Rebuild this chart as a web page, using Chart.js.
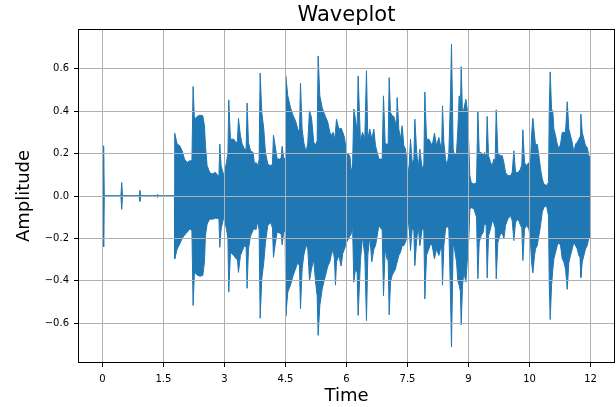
<!DOCTYPE html>
<html><head><meta charset="utf-8">
<script src="https://cdn.jsdelivr.net/npm/chart.js@4"></script>
<style>html,body{margin:0;padding:0;background:#fff}</style>
</head><body>
<canvas id="c" width="616" height="407"></canvas>
<script>
const chartTitle = 'Waveplot';
const xAxisTitle = 'Time';
const yAxisTitle = 'Amplitude';

const times = [0,0.015,0.03,0.045,0.455,0.475,0.495,0.9,0.92,0.94,1.34,1.35,1.36,1.77,
1.778,1.836,1.901,1.959,2.016,2.082,2.147,2.200,2.229,2.262,2.328,2.393,2.467,2.508,2.533,2.574,2.639,2.696,2.778,2.844,2.865,2.885,2.918,2.983,3.049,3.085,3.106,3.147,3.229,3.287,3.320,3.344,3.393,3.434,3.492,
3.533,3.557,3.590,3.639,3.705,3.737,3.778,3.819,3.852,3.877,3.918,3.967,4.008,4.065,4.131,4.180,4.205,4.246,4.295,4.360,4.395,4.418,4.459,4.491,4.508,4.557,4.623,4.688,4.746,4.803,4.844,4.869,4.909,4.950,5.008,5.049,5.090,5.139,5.196,5.237,
5.278,5.303,5.344,5.401,5.442,5.483,5.541,5.590,5.623,5.672,5.705,5.729,5.754,5.811,5.868,5.909,5.950,6.000,6.082,6.114,6.147,6.180,6.221,6.262,6.286,6.344,6.393,6.450,6.491,6.524,6.573,6.622,6.672,6.713,6.795,6.877,6.909,6.950,
7.000,7.024,7.049,7.081,7.122,7.163,7.204,7.230,7.245,7.286,7.327,7.368,7.409,7.450,7.491,7.532,7.573,7.614,7.655,7.680,7.721,7.762,7.803,7.860,7.901,7.926,7.967,8.024,8.065,8.106,8.163,8.212,8.270,8.311,8.340,8.360,8.393,8.434,8.475,8.516,8.557,8.581,
8.622,8.655,8.704,8.737,8.770,8.800,8.819,8.852,8.885,8.934,8.967,9.007,9.032,9.065,9.130,9.196,9.229,9.262,9.311,9.360,9.393,9.434,9.458,9.491,9.540,9.581,9.622,9.655,9.680,9.720,9.770,9.827,9.868,9.909,9.966,10.032,10.073,10.114,10.155,10.221,10.278,10.310,10.335,
10.376,10.425,10.483,10.524,10.548,10.581,10.622,10.647,10.688,10.729,10.770,10.811,10.852,10.917,10.966,10.983,11.007,11.040,11.073,11.098,11.139,11.180,11.221,11.262,11.303,11.344,11.384,11.426,11.466,11.507,11.548,11.589,11.630,11.671,11.712,11.740,11.761,11.794,11.835,11.876,11.917,11.958,11.985,11.99];

const upperEnv = [0.001,0.001,0.237,0.001,0.001,0.064,0.001,0.001,0.027,0.001,0.001,0.006,0.001,0.001,
0.296,0.245,0.237,0.213,0.174,0.158,0.166,0.166,0.516,0.362,0.375,0.381,0.378,0.331,0.237,0.143,0.111,0.104,0.111,0.096,0.10,0.245,0.143,0.096,0.158,0.20,0.453,0.268,0.268,0.25,0.26,0.366,0.284,0.245,0.221,
0.22,0.438,0.253,0.213,0.205,0.151,0.158,0.143,0.17,0.579,0.394,0.315,0.205,0.15,0.143,0.15,0.287,0.237,0.174,0.174,0.18,0.234,0.174,0.18,0.566,0.472,0.417,0.378,0.355,0.315,0.30,0.532,0.315,0.253,0.205,0.253,0.402,0.37,0.253,0.24,
0.26,0.66,0.472,0.417,0.394,0.375,0.347,0.30,0.285,0.30,0.268,0.30,0.362,0.315,0.32,0.30,0.276,0.205,0.19,0.127,0.127,0.41,0.362,0.30,0.566,0.253,0.30,0.27,0.59,0.268,0.315,0.268,0.315,0.237,0.174,0.174,0.472,0.253,
0.237,0.25,0.558,0.394,0.378,0.375,0.347,0.33,0.464,0.315,0.268,0.331,0.237,0.221,0.158,0.111,0.268,0.158,0.17,0.362,0.221,0.127,0.221,0.127,0.15,0.49,0.268,0.268,0.253,0.237,0.296,0.237,0.276,0.237,0.24,0.425,0.253,0.174,0.143,0.205,0.472,0.715,
0.221,0.19,0.205,0.315,0.472,0.40,0.61,0.378,0.41,0.456,0.41,0.237,0.096,0.064,0.056,0.064,0.40,0.205,0.205,0.19,0.205,0.18,0.375,0.19,0.158,0.143,0.174,0.17,0.406,0.205,0.19,0.19,0.158,0.111,0.096,0.096,0.111,0.213,0.111,0.111,0.127,0.15,0.312,
0.158,0.143,0.158,0.158,0.284,0.366,0.284,0.237,0.245,0.19,0.127,0.08,0.056,0.049,0.064,0.394,0.585,0.41,0.394,0.315,0.284,0.245,0.221,0.245,0.30,0.30,0.30,0.444,0.315,0.284,0.253,0.205,0.245,0.253,0.268,0.28,0.386,0.30,0.268,0.237,0.229,0.19,0.18,0];

const lowerEnv = [-0.001,-0.001,-0.24,-0.001,-0.001,-0.063,-0.001,-0.001,-0.025,-0.001,-0.001,-0.006,-0.001,-0.001,
-0.296,-0.25,-0.226,-0.20,-0.185,-0.171,-0.155,-0.163,-0.516,-0.359,-0.372,-0.378,-0.375,-0.312,-0.187,-0.132,-0.108,-0.11,-0.105,-0.105,-0.11,-0.242,-0.155,-0.10,-0.155,-0.20,-0.453,-0.265,-0.28,-0.296,-0.30,-0.36,-0.28,-0.26,-0.234,
-0.24,-0.435,-0.25,-0.19,-0.16,-0.155,-0.158,-0.118,-0.16,-0.576,-0.39,-0.312,-0.218,-0.14,-0.124,-0.15,-0.289,-0.23,-0.17,-0.175,-0.18,-0.23,-0.165,-0.17,-0.566,-0.453,-0.42,-0.375,-0.344,-0.312,-0.33,-0.532,-0.344,-0.28,-0.23,-0.25,-0.40,-0.344,-0.30,-0.40,
-0.47,-0.657,-0.516,-0.44,-0.406,-0.375,-0.33,-0.31,-0.28,-0.25,-0.30,-0.42,-0.31,-0.28,-0.33,-0.27,-0.25,-0.22,-0.19,-0.18,-0.124,-0.406,-0.344,-0.36,-0.563,-0.30,-0.19,-0.28,-0.587,-0.28,-0.19,-0.31,-0.25,-0.234,-0.14,-0.16,-0.47,-0.25,
-0.30,-0.30,-0.56,-0.406,-0.375,-0.359,-0.344,-0.32,-0.312,-0.28,-0.265,-0.234,-0.234,-0.218,-0.187,-0.108,-0.257,-0.155,-0.16,-0.328,-0.218,-0.14,-0.234,-0.155,-0.16,-0.485,-0.28,-0.25,-0.226,-0.234,-0.296,-0.25,-0.28,-0.25,-0.24,-0.42,-0.234,-0.155,-0.14,-0.155,-0.47,-0.712,
-0.22,-0.25,-0.31,-0.40,-0.42,-0.45,-0.607,-0.42,-0.359,-0.406,-0.312,-0.20,-0.061,-0.055,-0.06,-0.10,-0.39,-0.218,-0.187,-0.171,-0.124,-0.14,-0.387,-0.187,-0.155,-0.116,-0.13,-0.15,-0.39,-0.218,-0.187,-0.171,-0.203,-0.139,-0.108,-0.093,-0.116,-0.21,-0.124,-0.108,-0.139,-0.15,-0.304,
-0.155,-0.139,-0.155,-0.218,-0.31,-0.362,-0.28,-0.249,-0.234,-0.187,-0.139,-0.077,-0.053,-0.046,-0.093,-0.406,-0.582,-0.422,-0.344,-0.296,-0.265,-0.234,-0.218,-0.234,-0.296,-0.312,-0.344,-0.44,-0.312,-0.28,-0.249,-0.218,-0.234,-0.249,-0.28,-0.29,-0.384,-0.312,-0.28,-0.249,-0.234,-0.195,-0.195,0];

const xTickValues = [0,1.5,3,4.5,6,7.5,9,10.5,12];
const xTickLabels = ['0','1.5','3','4.5','6','7.5','9','10','12'];
const yTickValues = [-0.6,-0.4,-0.2,0,0.2,0.4,0.6];
const yTickLabels = ['\u22120.6','\u22120.4','\u22120.2','0.0','0.2','0.4','0.6'];

const FONT = 'DejaVu Sans';
const blue = '#1f77b4';

const framePlugin = {
  id: 'frame',
  afterDraw(chart) {
    const {ctx, chartArea: a} = chart;
    ctx.save();
    ctx.strokeStyle = '#000';
    ctx.lineWidth = 1;
    ctx.strokeRect(Math.round(a.left) + 0.5, Math.round(a.top) + 0.5,
                   Math.round(a.right) - Math.round(a.left) - 1, Math.round(a.bottom) - Math.round(a.top) - 1);
    ctx.restore();
  }
};

new Chart(document.getElementById('c'), {
  type: 'line',
  data: {
    datasets: [
      {data: times.map((t, i) => ({x: t, y: upperEnv[i]})), borderColor: blue, backgroundColor: blue,
       borderWidth: 1, pointRadius: 0, fill: false, tension: 0},
      {data: times.map((t, i) => ({x: t, y: lowerEnv[i]})), borderColor: blue, backgroundColor: blue,
       borderWidth: 1, pointRadius: 0, fill: '-1', tension: 0}
    ]
  },
  options: {
    responsive: false,
    devicePixelRatio: 1,
    animation: false,
    layout: {padding: {left: 0, right: 1, top: 0, bottom: 0}},
    plugins: {
      legend: {display: false},
      tooltip: {enabled: false},
      title: {display: true, text: chartTitle, color: '#000', fullSize: false,
              font: {family: FONT, size: 21, weight: 'normal', lineHeight: '25px'},
              padding: {top: 3, bottom: 1}}
    },
    scales: {
      x: {
        type: 'linear', min: -0.6, max: 12.6, z: 1,
        afterFit(s) { s.height = 44; },
        afterBuildTicks(s) { s.ticks = xTickValues.map(v => ({value: v})); },
        ticks: {callback: (v, i) => xTickLabels[i], autoSkip: false, maxRotation: 0, z: 1,
                color: '#000', font: {family: FONT, size: 10}, padding: 6},
        grid: {color: '#b0b0b0', lineWidth: 1, tickColor: '#000', tickLength: 4, drawOnChartArea: true, z: 1},
        border: {display: false},
        title: {display: true, text: xAxisTitle, color: '#000', font: {family: FONT, size: 18}, padding: {top: 0, bottom: 0}}
      },
      y: {
        type: 'linear', min: -0.787, max: 0.787, z: 1,
        afterFit(s) { s.width = 78; },
        afterBuildTicks(s) { s.ticks = yTickValues.map(v => ({value: v})); },
        ticks: {callback: (v, i) => yTickLabels[i], autoSkip: false, z: 1,
                color: '#000', font: {family: FONT, size: 10}, padding: 5},
        grid: {color: '#b0b0b0', lineWidth: 1, tickColor: '#000', tickLength: 4, drawOnChartArea: true, z: 1},
        border: {display: false},
        title: {display: true, text: yAxisTitle, color: '#000', font: {family: FONT, size: 18}, padding: {top: 14, bottom: 0}}
      }
    }
  },
  plugins: [framePlugin]
});
</script>
</body></html>
